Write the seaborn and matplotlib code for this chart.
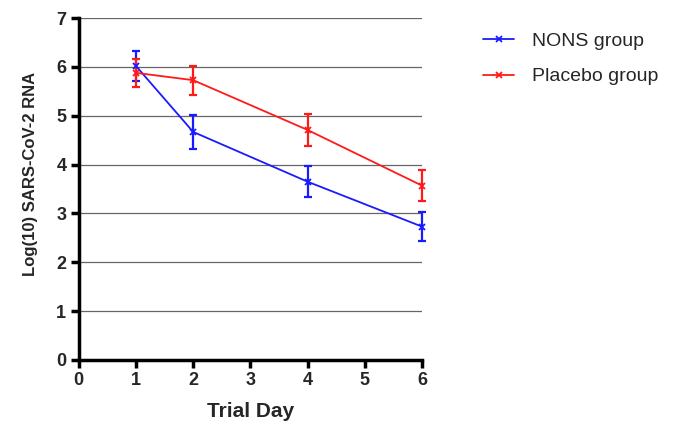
import matplotlib
matplotlib.use("Agg")
import matplotlib.pyplot as plt
import pandas as pd
import seaborn as sns

sns.set_theme(style="white")
plt.rcParams["font.family"] = ["Liberation Sans", "DejaVu Sans"]

DAYS = [1, 2, 4, 6]
NONS_MEAN = [6.02, 4.67, 3.65, 2.73]
NONS_ERR = [0.30, 0.35, 0.32, 0.30]
PLACEBO_MEAN = [5.88, 5.73, 4.71, 3.57]
PLACEBO_ERR = [0.28, 0.30, 0.32, 0.32]
GROUPS = ["NONS group", "Placebo group"]
COLORS = {"NONS group": "#1a1aff", "Placebo group": "#ff1a1a"}

df = pd.DataFrame({
    "day": DAYS * 2,
    "value": NONS_MEAN + PLACEBO_MEAN,
    "err": NONS_ERR + PLACEBO_ERR,
    "group": [GROUPS[0]] * len(DAYS) + [GROUPS[1]] * len(DAYS),
})

fig = plt.figure(figsize=(6.85, 4.33), dpi=100)
ax = fig.add_axes([0.115, 0.169, 0.501, 0.789])

for y in range(1, 8):
    ax.plot([0, 6], [y, y], color="#666666", lw=0.9, zorder=0)

for g in GROUPS:
    sub = df[df["group"] == g]
    sns.lineplot(data=sub, x="day", y="value", color=COLORS[g], label=g,
                 marker="x", markersize=5, markeredgewidth=1.3,
                 markeredgecolor=COLORS[g], lw=1.3, ax=ax, zorder=3, clip_on=False)
    ax.errorbar(sub["day"], sub["value"], yerr=sub["err"], fmt="none",
                ecolor=COLORS[g], elinewidth=1.6, capsize=3, capthick=1.6,
                zorder=2, clip_on=False)

ax.set_xlim(0, 6)
ax.set_ylim(0, 7)
ax.set_xticks(range(0, 7))
ax.set_yticks(range(0, 8))
sns.despine(ax=ax)
for s in ["left", "bottom"]:
    ax.spines[s].set_linewidth(2.5)
    ax.spines[s].set_color("black")
ax.tick_params(axis="both", direction="out", length=6, width=2.5, color="black",
               labelsize=13, pad=3, left=True, bottom=True)
for lab in ax.get_xticklabels() + ax.get_yticklabels():
    lab.set_fontweight("bold")
ax.set_xlabel("Trial Day", fontsize=15, fontweight="bold", labelpad=9)
ax.set_ylabel("Log(10) SARS-CoV-2 RNA", fontsize=12, fontweight="bold")
ax.yaxis.set_label_coords(-0.12, 0.545)

handles, labels = ax.get_legend_handles_labels()
ax.legend_.remove()
fig.legend(handles, labels, loc="upper left", bbox_to_anchor=(0.68, 0.965),
           frameon=False, fontsize=14, handlelength=1.6, labelspacing=0.9,
           handletextpad=0.9, markerscale=0.8)

fig.savefig("out.png", dpi=100)
